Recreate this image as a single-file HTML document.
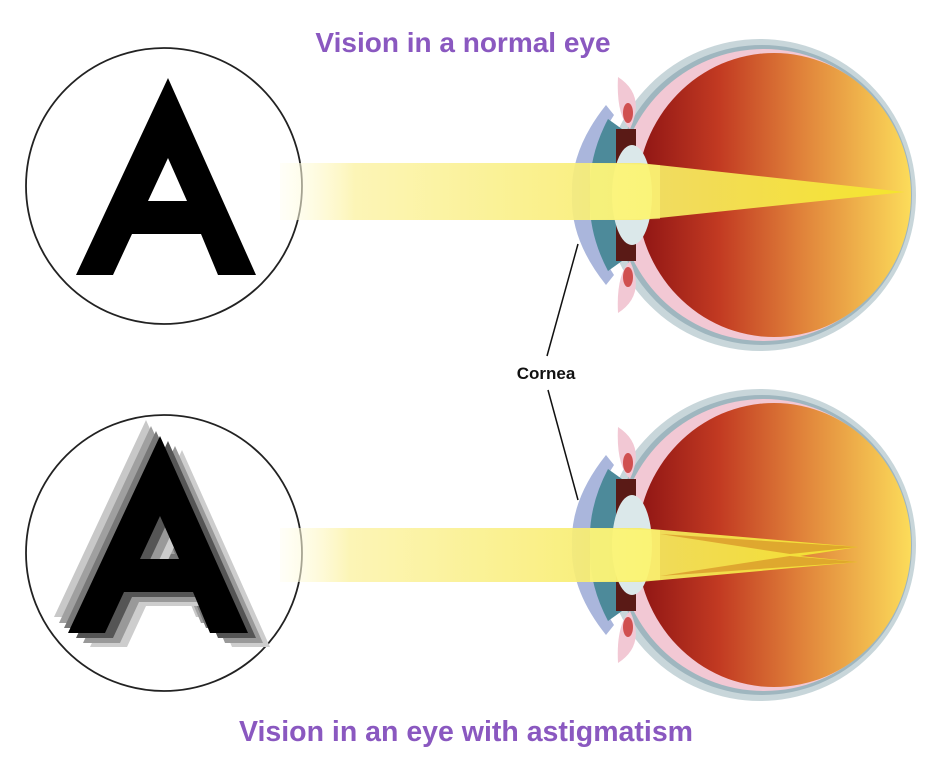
<!DOCTYPE html>
<html><head><meta charset="utf-8"><style>
html,body{margin:0;padding:0;background:#fff;}
svg{display:block}
</style></head><body>
<svg width="938" height="759" viewBox="0 0 938 759" xmlns="http://www.w3.org/2000/svg">
<defs>
<linearGradient id="inner" x1="0" x2="1" y1="0" y2="0">
<stop offset="0" stop-color="#8e1414"/>
<stop offset="0.3" stop-color="#c23a22"/>
<stop offset="0.6" stop-color="#e0823a"/>
<stop offset="1" stop-color="#fcdc5a"/>
</linearGradient>
<linearGradient id="beam" x1="0" x2="1" y1="0" y2="0">
<stop offset="0" stop-color="#fffef0" stop-opacity="0.5"/>
<stop offset="0.12" stop-color="#fcf4b0"/>
<stop offset="1" stop-color="#f4e62a"/>
</linearGradient>
<path id="A" d="M168 78 L256 275 L218 275 L201 234 L132 234 L113 275 L76 275 Z M168 158 L148 201 L187 201 Z" fill-rule="evenodd"/>
<g id="eye">
<circle cx="760" cy="0" r="156" fill="#c8d6da"/>
<circle cx="762" cy="0" r="150" fill="#9fb6bf"/>
<circle cx="764" cy="0" r="146" fill="#f2c8d4"/>
<ellipse cx="774" cy="0" rx="137" ry="142" fill="url(#inner)"/>
<path d="M606 -90 Q570 -45 572 0 Q570 45 606 90 L614 80 Q588 40 590 0 Q588 -40 614 -80 Z" fill="#aab6dc"/>
<path d="M608 -76 Q588 -38 590 0 Q588 38 608 76 L622 66 L622 -66 Z" fill="#4d8a9a"/>
<path d="M616 -66 L636 -66 L636 66 L616 66 Z" fill="#5a1a16"/>
<ellipse cx="632" cy="0" rx="20" ry="50" fill="#dbe8ea"/>
<path d="M618 -118 Q646 -100 630 -66 Q616 -80 618 -118 Z" fill="#f2c8d4"/>
<path d="M618 118 Q646 100 630 66 Q616 80 618 118 Z" fill="#f2c8d4"/>
<ellipse cx="628" cy="-82" rx="5" ry="10" fill="#d05050"/>
<ellipse cx="628" cy="82" rx="5" ry="10" fill="#d05050"/>
</g>
</defs>

<circle cx="164" cy="186" r="138" fill="#fff" stroke="#222" stroke-width="1.8"/>
<use href="#A" fill="#000"/>

<circle cx="164" cy="553" r="138" fill="#fff" stroke="#222" stroke-width="1.8"/>
<g transform="translate(-8,358)">
<use href="#A" transform="translate(-14,-16)" fill="#c8c8c8"/>
<use href="#A" transform="translate(-9,-10)" fill="#a0a0a0"/>
<use href="#A" transform="translate(-4,-5)" fill="#777"/>
<use href="#A" transform="translate(22,14)" fill="#cdcdcd"/>
<use href="#A" transform="translate(15,10)" fill="#999"/>
<use href="#A" transform="translate(8,5)" fill="#555"/>
<use href="#A" fill="#000"/>
</g>

<use href="#eye" transform="translate(0,195)"/>
<use href="#eye" transform="translate(0,545)"/>

<!-- top beam -->
<path d="M280 163 L640 163 L905 192 L640 220 L280 220 Z" fill="url(#beam)" opacity="0.92"/>
<path d="M590 163 L660 165 L660 219 L590 220 Z" fill="#fffb80" opacity="0.5"/>
<!-- bottom beam -->
<path d="M280 528 L640 528 L858 547 L800 556 L858 562 L640 582 L280 582 Z" fill="url(#beam)" opacity="0.92"/>
<path d="M660 534 L858 547 L790 554 Z" fill="#d99a2a" opacity="0.8"/>
<path d="M660 576 L858 562 L790 556 Z" fill="#d99a2a" opacity="0.8"/>
<path d="M590 528 L660 530 L660 580 L590 582 Z" fill="#fffb80" opacity="0.5"/>

<line x1="547" y1="356" x2="578" y2="244" stroke="#111" stroke-width="1.5"/>
<line x1="548" y1="390" x2="578" y2="500" stroke="#111" stroke-width="1.5"/>
<text x="546" y="379" font-family="Liberation Sans, sans-serif" font-size="17" font-weight="bold" text-anchor="middle" fill="#111">Cornea</text>

<text x="463" y="52" font-family="Liberation Sans, sans-serif" font-size="28" font-weight="bold" text-anchor="middle" fill="#8a58c0">Vision in a normal eye</text>
<text x="466" y="741" font-family="Liberation Sans, sans-serif" font-size="28.5" font-weight="bold" text-anchor="middle" fill="#8a58c0">Vision in an eye with astigmatism</text>
</svg>
</body></html>
